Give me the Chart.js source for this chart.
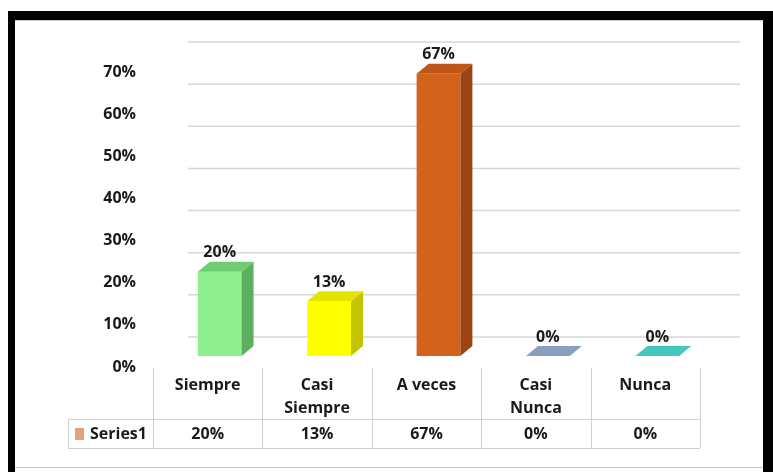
<!DOCTYPE html>
<html><head><meta charset="utf-8">
<script src="https://cdn.jsdelivr.net/npm/chart.js@4.4.1/dist/chart.umd.min.js"></script>
<style>html,body{margin:0;padding:0;background:#fff}canvas{display:block}</style>
</head><body>
<canvas id="c" width="773" height="472"></canvas>
<script>
// ---- data ----
const categories = [['Siempre'], ['Casi', 'Siempre'], ['A veces'], ['Casi', 'Nunca'], ['Nunca']];
const seriesName = 'Series1';
const values = [0.20, 0.13, 0.67, 0, 0];
const yMin = 0, yMax = 0.7, yStep = 0.1;

// ---- styles ----
const frontColors = ['#8FEE8F', '#FFFF00', '#D2621C', '#7F93B5', '#3FBDB7'];
const sideColors  = ['#5DB05D', '#C4C400', '#9C4412', '#607596', '#2A9A94'];
const topColors   = ['#70CC70', '#E4E400', '#BF5516', '#8A9FC0', '#45C6BE'];
const keyColor = '#E9A07C';
const FONT = '"Open Sans", "Liberation Sans", sans-serif';
const TXT = '#1a1a1a';
const pct = v => Math.round(v * 100) + '%';

const DX = 12, DY = 10; // 3D depth of bars

const framePlugin = {
  id: 'frame',
  beforeDraw(chart) {
    const ctx = chart.ctx;
    ctx.save();
    ctx.fillStyle = '#fff';
    ctx.fillRect(0, 0, chart.width, chart.height);
    ctx.fillStyle = '#000';
    ctx.fillRect(8, 11, 765, 9);
    ctx.fillRect(8, 11, 7, 461);
    ctx.fillRect(763, 11, 10, 461);
    ctx.strokeStyle = '#c8c8c8';
    ctx.lineWidth = 1;
    ctx.beginPath();
    ctx.moveTo(15, 20.5); ctx.lineTo(763, 20.5);
    ctx.moveTo(15, 467.5); ctx.lineTo(763, 467.5);
    ctx.stroke();
    ctx.restore();
  }
};

const backGridPlugin = {
  id: 'backGrid',
  beforeDatasetsDraw(chart) {
    const ctx = chart.ctx, ys = chart.scales.y, a = chart.chartArea;
    ctx.save();
    ctx.strokeStyle = '#d6d6d6';
    ctx.lineWidth = 1.5;
    ys.ticks.forEach(t => {
      const y = ys.getPixelForValue(t.value) - 19;
      ctx.beginPath();
      ctx.moveTo(a.left + 23, y);
      ctx.lineTo(a.right + 28, y);
      ctx.stroke();
    });
    ctx.restore();
  }
};

const bars3dPlugin = {
  id: 'bars3d',
  afterDatasetsDraw(chart) {
    const ctx = chart.ctx;
    const meta = chart.getDatasetMeta(0);
    ctx.save();
    meta.data.forEach((bar, i) => {
      const { x, y, base, width } = bar.getProps(['x', 'y', 'base', 'width'], true);
      const l = x - width / 2, r = x + width / 2;
      if (base - y > 0.5) {
        ctx.fillStyle = sideColors[i];
        ctx.beginPath();
        ctx.moveTo(r, y); ctx.lineTo(r + DX, y - DY);
        ctx.lineTo(r + DX, base - DY); ctx.lineTo(r, base);
        ctx.closePath(); ctx.fill();
      }
      ctx.fillStyle = topColors[i];
      ctx.beginPath();
      ctx.moveTo(l, y); ctx.lineTo(l + DX, y - DY);
      ctx.lineTo(r + DX, y - DY); ctx.lineTo(r, y);
      ctx.closePath(); ctx.fill();
      ctx.fillStyle = TXT;
      ctx.font = 'bold 16px ' + FONT;
      ctx.textAlign = 'center';
      ctx.textBaseline = 'middle';
      ctx.fillText(pct(values[i]), x, y - DY - 9);
    });
    ctx.restore();
  }
};

const tablePlugin = {
  id: 'table',
  afterDraw(chart) {
    const ctx = chart.ctx, xs = chart.scales.x;
    const n = categories.length;
    const cw = (xs.getPixelForValue(1) - xs.getPixelForValue(0));
    const cx = i => xs.getPixelForValue(i) - DX;
    const left0 = cx(0) - cw / 2, right = cx(n - 1) + cw / 2;
    const labelLeft = 68;
    const yTop = 368, yMid = 419, yBot = 448;
    ctx.save();
    ctx.strokeStyle = '#cfcfcf';
    ctx.lineWidth = 1;
    ctx.beginPath();
    for (let i = 0; i <= n; i++) {
      const xx = Math.round(left0 + i * cw) + 0.5;
      ctx.moveTo(xx, yTop); ctx.lineTo(xx, yBot);
    }
    ctx.moveTo(labelLeft + 0.5, yMid); ctx.lineTo(labelLeft + 0.5, yBot);
    ctx.moveTo(labelLeft, yMid + 0.5); ctx.lineTo(right, yMid + 0.5);
    ctx.moveTo(labelLeft, yBot + 0.5); ctx.lineTo(right, yBot + 0.5);
    ctx.stroke();

    ctx.fillStyle = TXT;
    ctx.font = 'bold 16px ' + FONT;
    ctx.textAlign = 'center';
    ctx.textBaseline = 'middle';
    categories.forEach((lines, i) => {
      lines.forEach((s, k) => ctx.fillText(s, cx(i), 385 + k * 23));
      ctx.fillText(pct(values[i]), cx(i), 434);
    });
    ctx.fillStyle = keyColor;
    ctx.fillRect(75, 428, 9, 12);
    ctx.fillStyle = TXT;
    ctx.textAlign = 'left';
    ctx.fillText(seriesName, 90, 434);
    ctx.restore();
  }
};

new Chart(document.getElementById('c'), {
  type: 'bar',
  data: {
    labels: categories.map(c => c.join(' ')),
    datasets: [{
      label: seriesName,
      data: values,
      backgroundColor: frontColors,
      borderWidth: 0,
      barPercentage: 0.40,
      categoryPercentage: 1.0
    }]
  },
  options: {
    responsive: false,
    animation: false,
    devicePixelRatio: 1,
    layout: { padding: { top: 61, right: 61, bottom: 116, left: 0 } },
    plugins: { legend: { display: false }, tooltip: { enabled: false } },
    scales: {
      x: { display: false },
      y: {
        min: yMin, max: yMax,
        afterFit(s) { s.width = 165; },
        grid: { display: false, drawTicks: false },
        border: { display: false },
        ticks: {
          stepSize: yStep,
          padding: 29,
          labelOffset: 11,
          color: TXT,
          font: { family: FONT, size: 16, weight: 'bold' },
          callback: v => pct(v)
        }
      }
    }
  },
  plugins: [framePlugin, backGridPlugin, bars3dPlugin, tablePlugin]
});
</script>
</body></html>
